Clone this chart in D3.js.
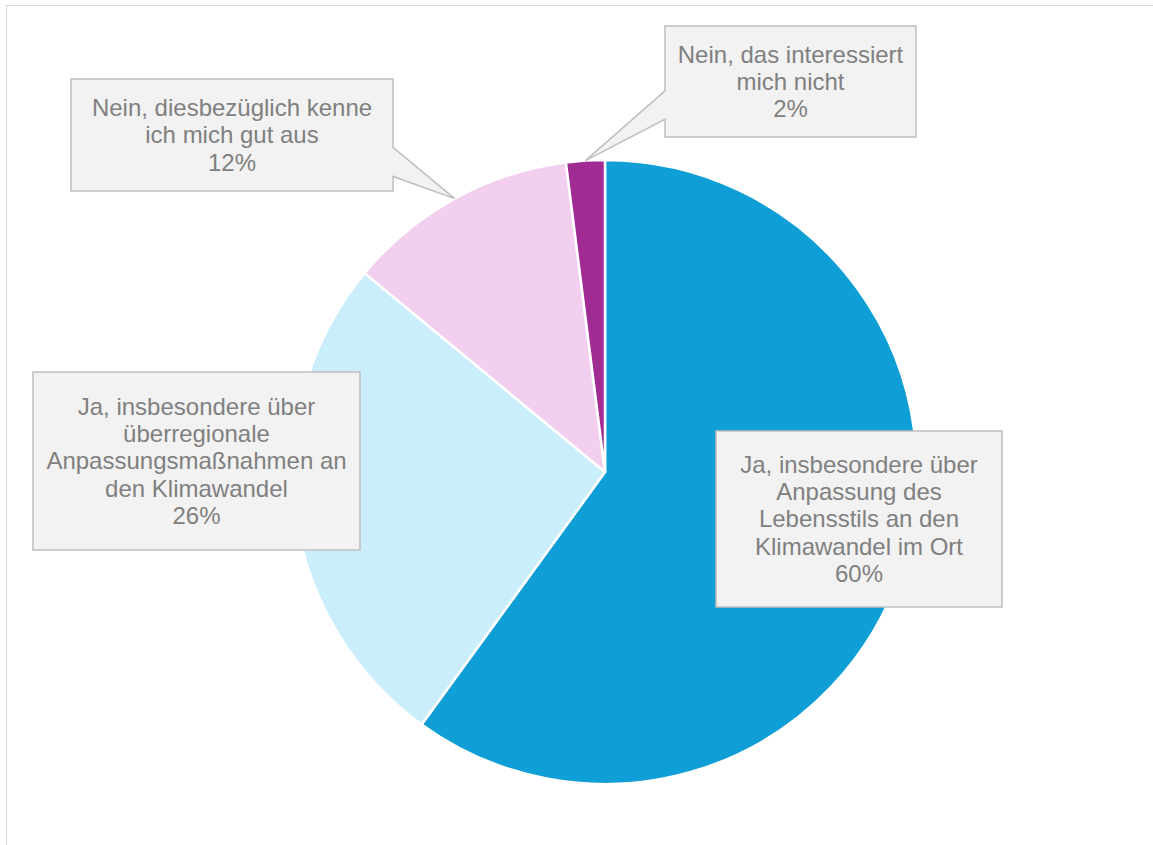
<!DOCTYPE html>
<html>
<head>
<meta charset="utf-8">
<script src="https://cdn.jsdelivr.net/npm/d3@7"></script>
<style>
  html, body { margin: 0; padding: 0; background: #ffffff; }
  svg { display: block; }
  text { font-family: "Liberation Sans", Arial, sans-serif; }
</style>
</head>
<body>
<svg id="chart" width="1153" height="845"></svg>
<script>
// Survey answers, in drawing order (clockwise from 12 o'clock)
const categories = [
  "Ja, insbesondere über Anpassung des Lebensstils an den Klimawandel im Ort",
  "Ja, insbesondere über überregionale Anpassungsmaßnahmen an den Klimawandel",
  "Nein, diesbezüglich kenne ich mich gut aus",
  "Nein, das interessiert mich nicht"
];
const values = [60, 26, 12, 2];
const labelLines = [
  ["Ja, insbesondere über", "Anpassung des", "Lebensstils an den", "Klimawandel im Ort"],
  ["Ja, insbesondere über", "überregionale", "Anpassungsmaßnahmen an", "den Klimawandel"],
  ["Nein, diesbezüglich kenne", "ich mich gut aus"],
  ["Nein, das interessiert", "mich nicht"]
];
const colors = ["#0f9ed5", "#caeefb", "#f2cfee", "#a02b93"];

const svg = d3.select("#chart");
const W = 1153, H = 845;

// chart frame
svg.append("rect")
  .attr("x", 6.5).attr("y", 5.5)
  .attr("width", W + 10).attr("height", H + 10)
  .attr("fill", "#ffffff")
  .attr("stroke", "#d9d9d9").attr("stroke-width", 1);

const cx = 605, cy = 472, R = 312;

const pie = d3.pie().sort(null).value(d => d);
const arcs = pie(values);
const arc = d3.arc().innerRadius(0).outerRadius(R);

const g = svg.append("g").attr("transform", `translate(${cx},${cy})`);
g.selectAll("path.slice")
  .data(arcs)
  .join("path")
  .attr("class", "slice")
  .attr("d", arc)
  .attr("fill", (d, i) => colors[i])
  .attr("stroke", "#ffffff")
  .attr("stroke-width", 2.5)
  .attr("stroke-linejoin", "round");

// label boxes; callouts carry a pointer wedge to their slice's outer edge
const boxes = [
  { x: 716, y: 431, w: 286, h: 176 },
  { x: 33,  y: 372, w: 327, h: 178 },
  { x: 71,  y: 79,  w: 322, h: 112, pointer: { side: "right", a: 0.61, b: 0.87 } },
  { x: 665, y: 26,  w: 251, h: 111, pointer: { side: "left",  a: 0.585, b: 0.84 } }
];

function outerPoint(d) {
  const a = (d.startAngle + d.endAngle) / 2;
  return [cx + R * Math.sin(a), cy - R * Math.cos(a)];
}

function calloutPath(b, tip) {
  const x0 = b.x, y0 = b.y, x1 = b.x + b.w, y1 = b.y + b.h;
  const p = d3.path();
  if (!b.pointer) {
    p.rect(x0, y0, b.w, b.h);
    return p.toString();
  }
  const ya = y0 + b.pointer.a * b.h, yb = y0 + b.pointer.b * b.h;
  p.moveTo(x0, y0);
  p.lineTo(x1, y0);
  if (b.pointer.side === "right") {
    p.lineTo(x1, ya); p.lineTo(tip[0], tip[1]); p.lineTo(x1, yb);
  }
  p.lineTo(x1, y1);
  p.lineTo(x0, y1);
  if (b.pointer.side === "left") {
    p.lineTo(x0, yb); p.lineTo(tip[0], tip[1]); p.lineTo(x0, ya);
  }
  p.closePath();
  return p.toString();
}

const fontSize = 24, lineH = 27.2;

const labels = svg.append("g").selectAll("g.label")
  .data(arcs)
  .join("g")
  .attr("class", "label");

labels.append("path")
  .attr("d", (d, i) => calloutPath(boxes[i], outerPoint(d)))
  .attr("fill", "#f2f2f2")
  .attr("stroke", "#bfbfbf")
  .attr("stroke-width", 1.5)
  .attr("stroke-linejoin", "miter");

labels.each(function (d, i) {
  const b = boxes[i];
  const lines = labelLines[i].concat([d3.format(".0%")(values[i] / 100)]);
  const n = lines.length;
  const midY = b.y + b.h / 2;
  const firstBase = midY - (n - 1) / 2 * lineH + fontSize * 0.35;
  d3.select(this).append("text")
    .attr("text-anchor", "middle")
    .attr("font-size", fontSize)
    .attr("fill", "#808080")
    .selectAll("tspan")
    .data(lines)
    .join("tspan")
    .attr("x", b.x + b.w / 2)
    .attr("y", (t, k) => firstBase + k * lineH)
    .text(t => t);
});
</script>
</body>
</html>
